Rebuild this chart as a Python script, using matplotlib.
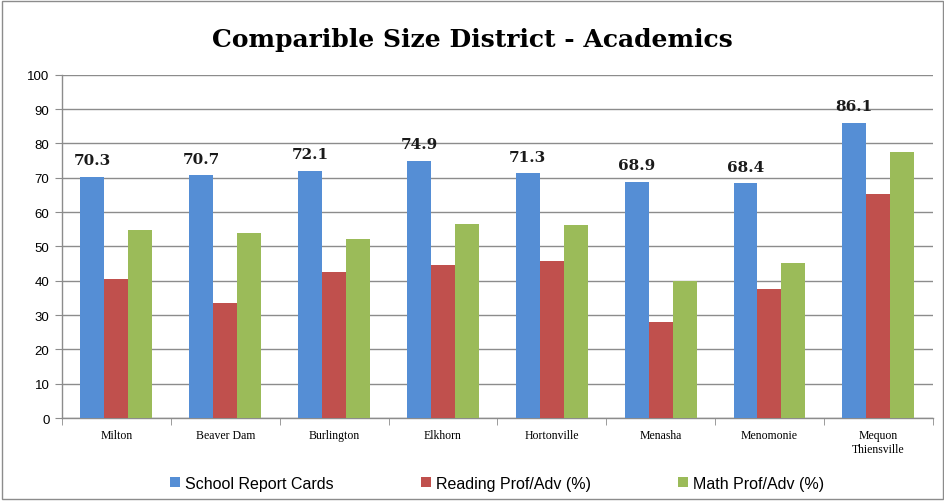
import matplotlib
matplotlib.use("Agg")
import matplotlib.pyplot as plt
import numpy as np
from matplotlib.patches import Rectangle

categories = ["Milton", "Beaver Dam", "Burlington", "Elkhorn", "Hortonville",
              "Menasha", "Menomonie", "Mequon\nThiensville"]
report_cards = [70.3, 70.7, 72.1, 74.9, 71.3, 68.9, 68.4, 86.1]
reading = [40.5, 33.5, 42.7, 44.5, 45.9, 28.1, 37.5, 65.4]
math_prof = [54.7, 54.0, 52.2, 56.6, 56.3, 40.0, 45.3, 77.5]
series_names = ["School Report Cards", "Reading Prof/Adv (%)", "Math Prof/Adv (%)"]
colors = ["#558ED5", "#C0504D", "#9BBB59"]
yticks = list(range(0, 101, 10))

fig = plt.figure(figsize=(9.45, 5.02), dpi=100)
ax = fig.add_axes([0.0656, 0.165, 0.9214, 0.684])

x = np.arange(len(categories))
w = 0.22
for i, (vals, c, name) in enumerate(zip([report_cards, reading, math_prof], colors, series_names)):
    ax.bar(x + (i - 1) * w, vals, w, color=c, label=name, zorder=3)

for xi, v in zip(x, report_cards):
    ax.annotate(f"{v}", (xi - w, v), xytext=(0, 7), textcoords="offset points",
                ha="center", va="bottom", fontsize=11, fontweight="bold",
                family="DejaVu Serif", color="#1a1a1a")

ax.set_xlim(-0.5, len(categories) - 0.5)
ax.set_ylim(0, 100)
ax.set_yticks(yticks)
ax.set_yticklabels([str(t) for t in yticks], fontsize=9.5, family="Liberation Sans")
ax.yaxis.grid(True, color="#8c8c8c", linewidth=1, zorder=0)
ax.set_axisbelow(True)

ax.set_xticks(x)
ax.set_xticklabels(categories, fontsize=8.5, family="Liberation Serif")
ax.tick_params(axis="x", length=0, pad=8)
ax.set_xticks(np.arange(-0.5, len(categories), 1), minor=True)
ax.tick_params(axis="x", which="minor", length=5, color="#8c8c8c", direction="out")
ax.tick_params(axis="y", length=5, color="#8c8c8c", direction="out", pad=4)

for s in ["top", "right"]:
    ax.spines[s].set_visible(False)
for s in ["left", "bottom"]:
    ax.spines[s].set_color("#8c8c8c")
    ax.spines[s].set_linewidth(1)

fig.text(0.5, 0.92, "Comparible Size District - Academics", ha="center", va="center",
         fontsize=18, fontweight="bold", family="DejaVu Serif")

leg = fig.legend(loc="center", bbox_to_anchor=(0.526, 0.035), ncol=3, frameon=False,
                 handlelength=0.6, handleheight=0.6, handletextpad=0.3,
                 columnspacing=5.5, prop={"family": "Liberation Sans", "size": 11.5})

fig.patches.append(Rectangle((0.002, 0.004), 0.996, 0.992, transform=fig.transFigure,
                             fill=False, edgecolor="#8c8c8c", linewidth=1))

fig.savefig("out.png", dpi=100)
